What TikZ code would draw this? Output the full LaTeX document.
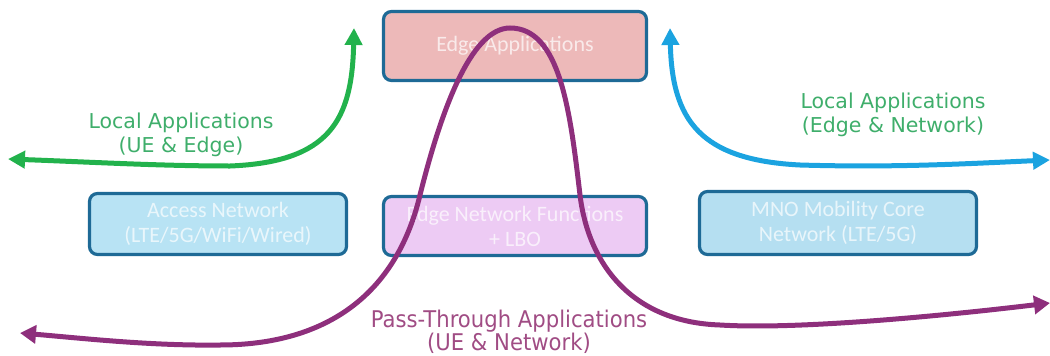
\documentclass[tikz,border=0pt]{standalone}
\usepackage{fontspec}
\usepackage{graphicx}
\setmainfont{DejaVu Sans}
\newfontfamily\boxfont{Carlito}
\usetikzlibrary{arrows.meta}

\definecolor{boxborder}{HTML}{1E6A96}
\definecolor{edgefill}{HTML}{EDB9B9}
\definecolor{netfill}{HTML}{B8E3F4}
\definecolor{nffill}{HTML}{EDCBF4}
\definecolor{corefill}{HTML}{B5DFF1}
\definecolor{greenarrow}{HTML}{22B24C}
\definecolor{greentext}{HTML}{3FAE6B}
\definecolor{bluearrow}{HTML}{1BA3E0}
\definecolor{purplearrow}{HTML}{8E2F7C}
\definecolor{purpletext}{HTML}{A04C84}

\tikzset{
  panel/.style={draw=boxborder, line width=3.2pt, rounded corners=8pt,
    align=center, inner sep=0pt,
    font=\boxfont\fontsize{22}{25}\selectfont,
    text=white, text opacity=0.7},
  flow/.style={line width=5pt, line cap=round},
  tip/.style={Triangle[length=17pt,width=18pt]},
  flowlabel/.style={align=center, inner sep=0pt,
    font=\fontsize{20.5}{24}\selectfont},
}

\begin{document}
\begin{tikzpicture}[x=1pt, y=-1pt]
\useasboundingbox (0,0) rectangle (1050,356);

% platform boxes
\node[panel, fill=edgefill, minimum width=263pt, minimum height=69pt]
  (edgeapps) at (515,46) {Edge Applications};
\node[panel, fill=netfill, minimum width=257pt, minimum height=61pt]
  (access) at (218,224) {Access Network\\(LTE/5G/WiFi/Wired)};
\node[panel, fill=nffill, minimum width=263pt, minimum height=59pt]
  (edgenf) at (515,226) {Edge Network Functions\\+ LBO};
\node[panel, fill=corefill, minimum width=277pt, minimum height=63pt]
  (core) at (838,223) {MNO Mobility Core\\Network (LTE/5G)};

% end points of the traffic flows
\coordinate (ueL) at (8,159);
\coordinate (edgeL) at (354,28);
\coordinate (edgeR) at (670,28);
\coordinate (netR) at (1050,160);
\coordinate (ueP) at (20,333);
\coordinate (netP) at (1050,303);

% local applications, UE side
\draw[flow, greenarrow, {Triangle[length=17pt,width=17pt]}-{Triangle[length=17pt,width=17pt]}]
  (ueL) .. controls (90,162) and (160,166) .. (230,166)
        .. controls (330,162) and (352,120) .. (edgeL);
\node[flowlabel, text=greentext] (lblue) at (181,135)
  {Local Applications\\(UE \& Edge)};

% local applications, network side
\draw[flow, bluearrow, {Triangle[length=17pt,width=17pt]}-{Triangle[length=17pt,width=17pt]}]
  (edgeR) .. controls (672,120) and (700,160) .. (800,165)
          .. controls (900,168) and (980,163) .. (netR);
\node[flowlabel, text=greentext] (lbnet) at (893,115)
  {Local Applications\\(Edge \& Network)};

% pass-through applications
\draw[flow, purplearrow, {Triangle[length=16pt,width=18pt]}-{Triangle[length=16pt,width=18pt]}]
  (ueP) .. controls (80,338) and (150,346) .. (220,345)
        .. controls (320,345) and (395,300) .. (420,195)
        .. controls (440,115) and (470,28) .. (510,28)
        .. controls (560,28) and (570,110) .. (580,195)
        .. controls (588,262) and (630,322) .. (720,325)
        .. controls (800,330) and (950,315) .. (netP);
\node[flowlabel, text=purpletext, font=\fontsize{23}{23}\selectfont] (lbpass) at (509,332)
  {\scalebox{0.92}[1]{Pass-Through Applications}\\\scalebox{0.92}[1]{(UE \& Network)}};
\end{tikzpicture}
\end{document}
